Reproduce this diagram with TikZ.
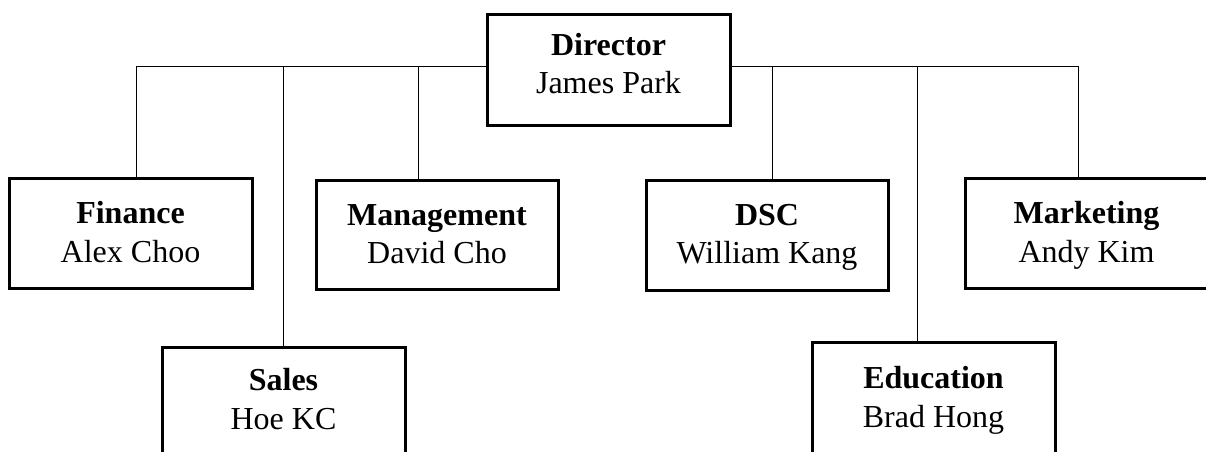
\documentclass[tikz,border=0pt]{standalone}
\usepackage{fontspec}
\setmainfont{Liberation Serif}
\begin{document}
\begin{tikzpicture}[x=1pt,y=-1pt,
  box/.style={draw=black, line width=3pt, inner sep=0pt, fill=white},
  conn/.style={draw=black, line width=1pt},
  txt/.style={anchor=base, inner sep=0pt, font=\fontsize{32}{39}\selectfont},
  ttl/.style={txt, font=\fontsize{32}{39}\selectfont\bfseries}]
\useasboundingbox (0,0) rectangle (1206,451);
\clip (0,0) rectangle (1206,451);
\fill[white] (0,0) rectangle (1206,451);

% connector anchor points on the horizontal bar
\coordinate (hl) at (136,66);
\coordinate (hs) at (283,66);
\coordinate (hm) at (418,66);
\coordinate (hd) at (772,66);
\coordinate (he) at (917,66);
\coordinate (hr) at (1078,66);

% boxes
\node[box, minimum width=243pt, minimum height=111pt] (dir) at (608.5,69.5) {};
\node[box, minimum width=243pt, minimum height=110pt] (fin) at (130.5,233) {};
\node[box, minimum width=242pt, minimum height=109pt] (mgt) at (437,234.5) {};
\node[box, minimum width=242pt, minimum height=110pt] (dsc) at (767,235) {};
\node[box, minimum width=243pt, minimum height=110pt] (mkt) at (1086.5,233) {};
\node[box, minimum width=243pt, minimum height=140pt] (sal) at (283.5,417) {};
\node[box, minimum width=243pt, minimum height=140pt] (edu) at (933.5,412) {};

\draw[conn] (hl |- fin.north) -- (hl) -- (dir.west |- hl);
\draw[conn] (dir.east |- hr) -- (hr) -- (hr |- mkt.north);
\draw[conn] (hs) -- (hs |- sal.north);
\draw[conn] (hm) -- (hm |- mgt.north);
\draw[conn] (hd) -- (hd |- dsc.north);
\draw[conn] (he) -- (he |- edu.north);

% texts
\node[ttl] (dirA) at (608.5,55) {Director};
\node[txt] (dirB) at (608.5,93) {James Park};
\node[ttl] (finA) at (130.5,223) {Finance};
\node[txt] (finB) at (130.5,262) {Alex Choo};
\node[ttl] (mgtA) at (437,225) {Management};
\node[txt] (mgtB) at (437,263) {David Cho};
\node[ttl] (dscA) at (767,225) {DSC};
\node[txt] (dscB) at (767,263) {William Kang};
\node[ttl] (mktA) at (1086.5,223) {Marketing};
\node[txt] (mktB) at (1086.5,262) {Andy Kim};
\node[ttl] (salA) at (283.5,390) {Sales};
\node[txt] (salB) at (283.5,429) {Hoe KC};
\node[ttl] (eduA) at (933.5,388) {Education};
\node[txt] (eduB) at (933.5,427) {Brad Hong};
\end{tikzpicture}
\end{document}
